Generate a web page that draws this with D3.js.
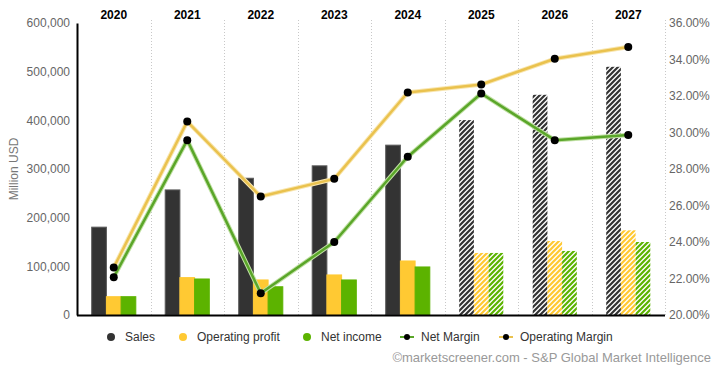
<!DOCTYPE html>
<html>
<head>
<meta charset="utf-8">
<script src="https://cdn.jsdelivr.net/npm/d3@7"></script>
<style>
  body { margin: 0; background: #fff; }
  text { font-family: "Liberation Sans", Arial, sans-serif; }
</style>
</head>
<body>
<div id="chart"></div>
<script>
const years = ['2020', '2021', '2022', '2023', '2024', '2025', '2026', '2027'];
const estimateFrom = '2025';
const sales = [180500, 257000, 281000, 306500, 349000, 400500, 452500, 510000];
const operatingProfit = [37600, 76800, 72000, 82300, 111000, 127500, 152000, 174000];
const netIncome = [37600, 74000, 58000, 72000, 98700, 127500, 131600, 150000];
const netMargin = [22.07, 29.58, 21.19, 24.0, 28.67, 32.14, 29.58, 29.86];
const operatingMargin = [22.6, 30.6, 26.49, 27.46, 32.19, 32.63, 34.04, 34.68];
const leftTicks = [0, 100000, 200000, 300000, 400000, 500000, 600000];
const rightTicks = [20, 22, 24, 26, 28, 30, 32, 34, 36];

const W = 718;
const H = 371;
const margin = {
  top: 23,
  right: 53,
  bottom: 56,
  left: 77,
};

const barSeries = [
  { key: 'Sales', values: sales, color: '#333333', stroke: '#5a5a5a' },
  { key: 'Operating profit', values: operatingProfit, color: '#ffc933', stroke: '#ffc933' },
  { key: 'Net income', values: netIncome, color: '#5cb300', stroke: '#5cb300' },
];
const lineSeries = [
  { key: 'Net Margin', values: netMargin, color: '#5aa629', halo: '#c2e1a6' },
  { key: 'Operating Margin', values: operatingMargin, color: '#eac24e', halo: '#f8e6b0' },
];

const svg = d3.select('#chart').append('svg')
  .attr('width', W)
  .attr('height', H);

// hatch patterns for estimates
const defs = svg.append('defs');
barSeries.forEach((s, i) => {
  const p = defs.append('pattern')
    .attr('id', `hatch${i}`)
    .attr('patternUnits', 'userSpaceOnUse')
    .attr('width', 5)
    .attr('height', 5);
  p.append('rect').attr('width', 5).attr('height', 5).attr('fill', '#fff');
  p.append('path')
    .attr('d', 'M0 5 L5 0 M-1 1 L1 -1 M4 6 L6 4')
    .attr('stroke', s.color)
    .attr('stroke-width', 2.2);
});

const x = d3.scaleBand()
  .domain(years)
  .range([margin.left, W - margin.right]);

const groupW = x.bandwidth() * 0.6;
const x1 = d3.scaleBand()
  .domain(barSeries.map(s => s.key))
  .range([(x.bandwidth() - groupW) / 2, (x.bandwidth() + groupW) / 2]);

const y = d3.scaleLinear()
  .domain([0, 600000])
  .range([H - margin.bottom, margin.top]);

const y2 = d3.scaleLinear()
  .domain([20, 36])
  .range([H - margin.bottom, margin.top]);

// dotted column separators
svg.append('g')
  .selectAll('line')
  .data(years)
  .enter().append('line')
  .attr('x1', d => Math.round(x(d) + x.bandwidth()) + 0.5)
  .attr('x2', d => Math.round(x(d) + x.bandwidth()) + 0.5)
  .attr('y1', margin.top - 3)
  .attr('y2', H - margin.bottom)
  .attr('stroke', '#c8c8c8')
  .attr('stroke-dasharray', '1,2');

// year labels on top
svg.append('g')
  .selectAll('text')
  .data(years)
  .enter().append('text')
  .attr('x', d => x(d) + x.bandwidth() / 2)
  .attr('y', 19)
  .attr('text-anchor', 'middle')
  .attr('font-size', 12)
  .attr('font-weight', 'bold')
  .attr('fill', '#000')
  .text(d => d);

// bars
barSeries.forEach((s, i) => {
  svg.append('g')
    .selectAll('rect')
    .data(years)
    .enter().append('rect')
    .attr('x', d => x(d) + x1(s.key))
    .attr('width', x1.bandwidth())
    .attr('y', (d, j) => y(s.values[j]))
    .attr('height', (d, j) => y(0) - y(s.values[j]))
    .attr('fill', d => (d >= estimateFrom ? `url(#hatch${i})` : s.color))
    .attr('stroke', d => (d >= estimateFrom ? 'none' : s.stroke))
    .attr('stroke-width', 1);
});

// left axis
const yAxis = d3.axisLeft(y)
  .tickValues(leftTicks)
  .tickSize(0)
  .tickPadding(7)
  .tickFormat(d3.format(','));

const gy = svg.append('g')
  .attr('transform', `translate(${margin.left},0)`)
  .call(yAxis);
gy.select('.domain').attr('stroke', '#000').attr('stroke-width', 2);
gy.selectAll('text')
  .attr('font-size', 12)
  .attr('fill', '#666')
  .style('font-family', '"Liberation Sans", Arial, sans-serif');

svg.append('text')
  .attr('transform', `translate(18,${(margin.top + H - margin.bottom) / 2}) rotate(-90)`)
  .attr('text-anchor', 'middle')
  .attr('font-size', 12)
  .attr('fill', '#777')
  .text('Million USD');

// right axis
const y2Axis = d3.axisRight(y2)
  .tickValues(rightTicks)
  .tickSize(0)
  .tickPadding(4)
  .tickFormat(d => `${d.toFixed(2)}%`);

const gy2 = svg.append('g')
  .attr('transform', `translate(${W - margin.right},0)`)
  .call(y2Axis);
gy2.select('.domain').remove();
gy2.selectAll('text')
  .attr('font-size', 12)
  .attr('fill', '#666')
  .style('font-family', '"Liberation Sans", Arial, sans-serif');

// baseline
svg.append('line')
  .attr('x1', margin.left)
  .attr('x2', W - margin.right)
  .attr('y1', y(0) + 0.5)
  .attr('y2', y(0) + 0.5)
  .attr('stroke', '#000')
  .attr('stroke-width', 2);

// margin lines
const cx = d => x(d) + x.bandwidth() / 2;
lineSeries.forEach((s) => {
  const line = d3.line()
    .x(d => cx(d))
    .y((d, j) => y2(s.values[j]));

  svg.append('path')
    .datum(years)
    .attr('d', line)
    .attr('fill', 'none')
    .attr('stroke', s.halo)
    .attr('stroke-width', 4.5)
    .attr('stroke-linejoin', 'round');

  svg.append('path')
    .datum(years)
    .attr('d', line)
    .attr('fill', 'none')
    .attr('stroke', s.color)
    .attr('stroke-width', 2.5)
    .attr('stroke-linejoin', 'round');
});

lineSeries.forEach((s) => {
  svg.append('g')
    .selectAll('circle')
    .data(years)
    .enter().append('circle')
    .attr('cx', d => cx(d))
    .attr('cy', (d, j) => y2(s.values[j]))
    .attr('r', 4)
    .attr('fill', '#000');
});

// legend
const legendY = 337;
const legend = svg.append('g');
const legendItems = [
  { key: 'Sales', type: 'dot', color: '#333333', x: 111 },
  { key: 'Operating profit', type: 'dot', color: '#ffc933', x: 183 },
  { key: 'Net income', type: 'dot', color: '#5cb300', x: 307 },
  { key: 'Net Margin', type: 'line', color: '#5aa629', x: 407 },
  { key: 'Operating Margin', type: 'line', color: '#eac24e', x: 506 },
];
legendItems.forEach((d) => {
  const g = legend.append('g').attr('transform', `translate(${d.x},${legendY})`);
  if (d.type === 'line') {
    g.append('line')
      .attr('x1', -7).attr('x2', 7)
      .attr('stroke', d.color)
      .attr('stroke-width', 2);
    g.append('circle').attr('r', 3).attr('fill', '#000');
  } else {
    g.append('circle').attr('r', 4).attr('fill', d.color);
  }
  g.append('text')
    .attr('x', 14)
    .attr('dy', '0.35em')
    .attr('font-size', 12)
    .attr('fill', '#333')
    .text(d.key);
});

svg.append('text')
  .attr('x', 711)
  .attr('y', 362)
  .attr('text-anchor', 'end')
  .attr('font-size', 13)
  .attr('fill', '#999')
  .text('©marketscreener.com - S&P Global Market Intelligence');
</script>
</body>
</html>
